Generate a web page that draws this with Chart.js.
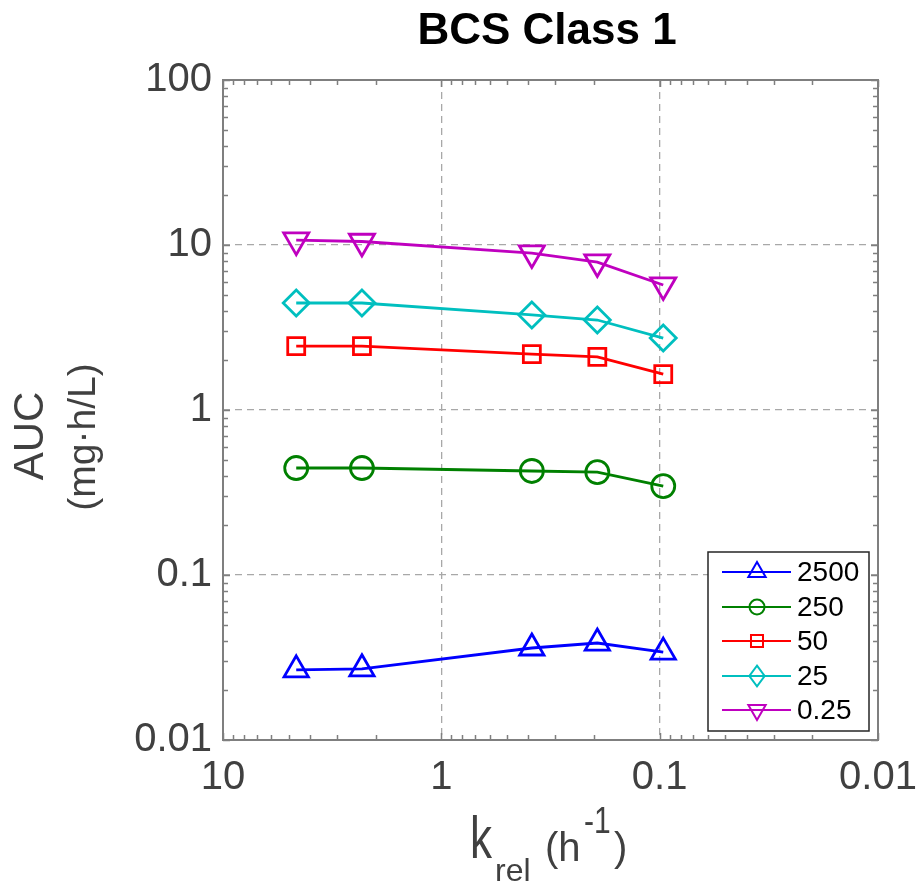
<!DOCTYPE html>
<html lang="en">
<head>
    <meta charset="UTF-8">
    <title>BCS Class 1</title>
    <script src="https://cdn.jsdelivr.net/npm/chart.js"></script>
    <style>
        body {
            margin: 0;
            background: #ffffff;
        }
        canvas {
            display: block;
        }
    </style>
</head>
<body>
    <canvas id="aucChart" width="923" height="886"></canvas>

    <script>
        // Valores
        const kRel = [4.62, 2.31, 0.385, 0.193, 0.0963];
        const doseLabels = ['2500', '250', '50', '25', '0.25'];
        const auc2500 = [0.0266, 0.0270, 0.0361, 0.0387, 0.0341];
        const auc250 = [0.445, 0.445, 0.427, 0.420, 0.346];
        const auc50 = [2.44, 2.44, 2.18, 2.10, 1.65];
        const auc25 = [4.45, 4.45, 3.77, 3.51, 2.73];
        const auc025 = [10.7, 10.5, 8.94, 7.88, 5.72];
        const xTicks = [10, 1, 0.1, 0.01];
        const yTicks = [100, 10, 1, 0.1, 0.01];

        const FONT = "'Liberation Sans', Arial, sans-serif";
        const AXIS_GRAY = '#7f7f7f';
        const TEXT_GRAY = '#404040';

        const series = [
            { label: doseLabels[0], values: auc2500, color: '#0000ff', style: 'triangle', rot: 0, r: 14, lr: 10 },
            { label: doseLabels[1], values: auc250, color: '#008000', style: 'circle', rot: 0, r: 11.5, lr: 7.5 },
            { label: doseLabels[2], values: auc50, color: '#ff0000', style: 'rect', rot: 0, r: 12, lr: 8.5 },
            { label: doseLabels[3], values: auc25, color: '#00bfbf', style: 'rectRot', rot: 0, r: 13, lr: 9 },
            { label: doseLabels[4], values: auc025, color: '#bf00bf', style: 'triangle', rot: 180, r: 14.5, lr: 10 }
        ];

        const datasets = series.map(s => ({
            label: s.label,
            data: kRel.map((k, i) => ({ x: k, y: s.values[i] })),
            borderColor: s.color,
            borderWidth: 2.8,
            pointStyle: s.style,
            pointRotation: s.rot,
            pointRadius: s.r,
            pointBorderWidth: 2.8,
            pointBorderColor: s.color,
            pointBackgroundColor: 'rgba(0,0,0,0)',
            fill: false,
            tension: 0
        }));

        function gridColor(ctx, min, max) {
            const v = ctx.tick ? ctx.tick.value : null;
            if (v === null || v === min || v === max) return 'rgba(0,0,0,0)';
            return '#a8a8a8';
        }

        // Marcador para la leyenda
        function drawMarker(ctx, style, rot, x, y, r) {
            ctx.beginPath();
            if (style === 'circle') {
                ctx.arc(x, y, r, 0, Math.PI * 2);
            } else if (style === 'rect') {
                const s = r * Math.SQRT1_2;
                ctx.rect(x - s, y - s, 2 * s, 2 * s);
            } else if (style === 'rectRot') {
                ctx.moveTo(x, y - r * 1.15);
                ctx.lineTo(x + r * 0.85, y);
                ctx.lineTo(x, y + r * 1.15);
                ctx.lineTo(x - r * 0.85, y);
                ctx.closePath();
            } else {
                let a = rot * Math.PI / 180;
                ctx.moveTo(x + Math.sin(a) * r, y - Math.cos(a) * r);
                a += 2 * Math.PI / 3;
                ctx.lineTo(x + Math.sin(a) * r, y - Math.cos(a) * r);
                a += 2 * Math.PI / 3;
                ctx.lineTo(x + Math.sin(a) * r, y - Math.cos(a) * r);
                ctx.closePath();
            }
            ctx.stroke();
        }

        function logSubTicks(min, max) {
            const out = [];
            for (let d = min; d < max * 0.999; d *= 10) {
                for (let m = 2; m <= 9; m++) out.push(d * m);
            }
            return out;
        }

        const framePlugin = {
            id: 'frame',
            afterDatasetsDraw(chart) {
                const { ctx, chartArea: a, scales } = chart;
                const xs = scales.x, ys = scales.y;
                ctx.save();
                ctx.strokeStyle = AXIS_GRAY;
                ctx.lineWidth = 1.5;
                // marcas menores y mayores hacia dentro
                const tick = (v, len, horiz) => {
                    ctx.beginPath();
                    if (horiz) {
                        const p = Math.round(xs.getPixelForValue(v)) + 0.5;
                        ctx.moveTo(p, a.bottom); ctx.lineTo(p, a.bottom - len);
                        ctx.moveTo(p, a.top); ctx.lineTo(p, a.top + len);
                    } else {
                        const p = Math.round(ys.getPixelForValue(v)) + 0.5;
                        ctx.moveTo(a.left, p); ctx.lineTo(a.left + len, p);
                        ctx.moveTo(a.right, p); ctx.lineTo(a.right - len, p);
                    }
                    ctx.stroke();
                };
                logSubTicks(0.01, 10).forEach(v => tick(v, 5, true));
                xTicks.forEach(v => tick(v, 7, true));
                logSubTicks(0.01, 100).forEach(v => tick(v, 5, false));
                yTicks.forEach(v => tick(v, 7, false));
                ctx.lineWidth = 2;
                ctx.strokeRect(a.left, a.top, a.right - a.left, a.bottom - a.top);
                ctx.restore();
            },
            afterDraw(chart) {
                const { ctx } = chart;
                ctx.save();

                // leyenda
                const lx = 708, ly = 552, lw = 161, lh = 179;
                ctx.fillStyle = '#ffffff';
                ctx.fillRect(lx, ly, lw, lh);
                ctx.strokeStyle = '#262626';
                ctx.lineWidth = 1.5;
                ctx.strokeRect(lx, ly, lw, lh);
                const rows = [572, 607, 641, 676, 710];
                ctx.font = '28px ' + FONT;
                ctx.textBaseline = 'middle';
                ctx.textAlign = 'left';
                series.forEach((s, i) => {
                    const y = rows[i];
                    ctx.strokeStyle = s.color;
                    ctx.lineWidth = 2;
                    ctx.beginPath();
                    ctx.moveTo(722, y); ctx.lineTo(791, y);
                    ctx.stroke();
                    drawMarker(ctx, s.style, s.rot, 757, y, s.lr);
                    ctx.fillStyle = '#000000';
                    ctx.fillText(s.label, 797, y + 1);
                });

                // título
                ctx.fillStyle = '#000000';
                ctx.font = 'bold 44px ' + FONT;
                ctx.textAlign = 'center';
                ctx.textBaseline = 'alphabetic';
                ctx.fillText('BCS Class 1', 547, 44);

                // título eje y
                ctx.fillStyle = TEXT_GRAY;
                ctx.save();
                ctx.translate(43, 436);
                ctx.rotate(-Math.PI / 2);
                ctx.font = '42px ' + FONT;
                ctx.fillText('AUC', 0, 0);
                ctx.restore();
                ctx.save();
                ctx.translate(95, 437);
                ctx.rotate(-Math.PI / 2);
                ctx.font = '39px ' + FONT;
                ctx.fillText('(mg\u00b7h/L)', 0, 0);
                ctx.restore();

                // título eje x: k_rel (h^-1)
                ctx.textAlign = 'left';
                ctx.save();
                ctx.translate(470, 858);
                ctx.scale(1.1, 1.5);
                ctx.font = '40px ' + FONT;
                ctx.fillText('k', 0, 0);
                ctx.restore();
                ctx.font = '32px ' + FONT;
                ctx.fillText('rel', 495, 881);
                ctx.font = '40px ' + FONT;
                ctx.fillText('(h', 545, 861);
                ctx.save();
                ctx.translate(584, 833);
                ctx.scale(1, 1.25);
                ctx.font = '30px ' + FONT;
                ctx.fillText('-1', 0, 0);
                ctx.restore();
                ctx.font = '40px ' + FONT;
                ctx.fillText(')', 614, 861);

                ctx.restore();
            }
        };

        Chart.defaults.font.family = FONT;

        new Chart(document.getElementById('aucChart'), {
            type: 'line',
            data: { datasets: datasets },
            options: {
                responsive: false,
                animation: false,
                layout: { padding: { left: 0, right: 45, top: 80, bottom: 0 } },
                plugins: {
                    legend: { display: false },
                    title: { display: false },
                    tooltip: { enabled: false }
                },
                scales: {
                    x: {
                        type: 'logarithmic',
                        reverse: true,
                        min: 0.01,
                        max: 10,
                        afterBuildTicks: scale => { scale.ticks = xTicks.map(v => ({ value: v })); },
                        afterFit: scale => {
                            scale.height = 146;
                            scale.paddingLeft = 0;
                            scale.paddingRight = 0;
                        },
                        ticks: {
                            autoSkip: false,
                            maxRotation: 0,
                            padding: 14,
                            color: TEXT_GRAY,
                            font: { size: 40 },
                            callback: v => String(v)
                        },
                        grid: {
                            drawTicks: false,
                            lineWidth: 1.3,
                            color: ctx => gridColor(ctx, 0.01, 10)
                        },
                        border: { display: false, dash: [7, 5] }
                    },
                    y: {
                        type: 'logarithmic',
                        min: 0.01,
                        max: 100,
                        afterBuildTicks: scale => { scale.ticks = yTicks.map(v => ({ value: v })); },
                        afterFit: scale => {
                            scale.width = 223;
                            scale.paddingTop = 0;
                            scale.paddingBottom = 0;
                        },
                        ticks: {
                            autoSkip: false,
                            padding: 11,
                            color: TEXT_GRAY,
                            font: { size: 40 },
                            callback: v => String(v)
                        },
                        grid: {
                            drawTicks: false,
                            lineWidth: 1.3,
                            color: ctx => gridColor(ctx, 0.01, 100)
                        },
                        border: { display: false, dash: [7, 5] }
                    }
                }
            },
            plugins: [framePlugin]
        });
    </script>
</body>
</html>
